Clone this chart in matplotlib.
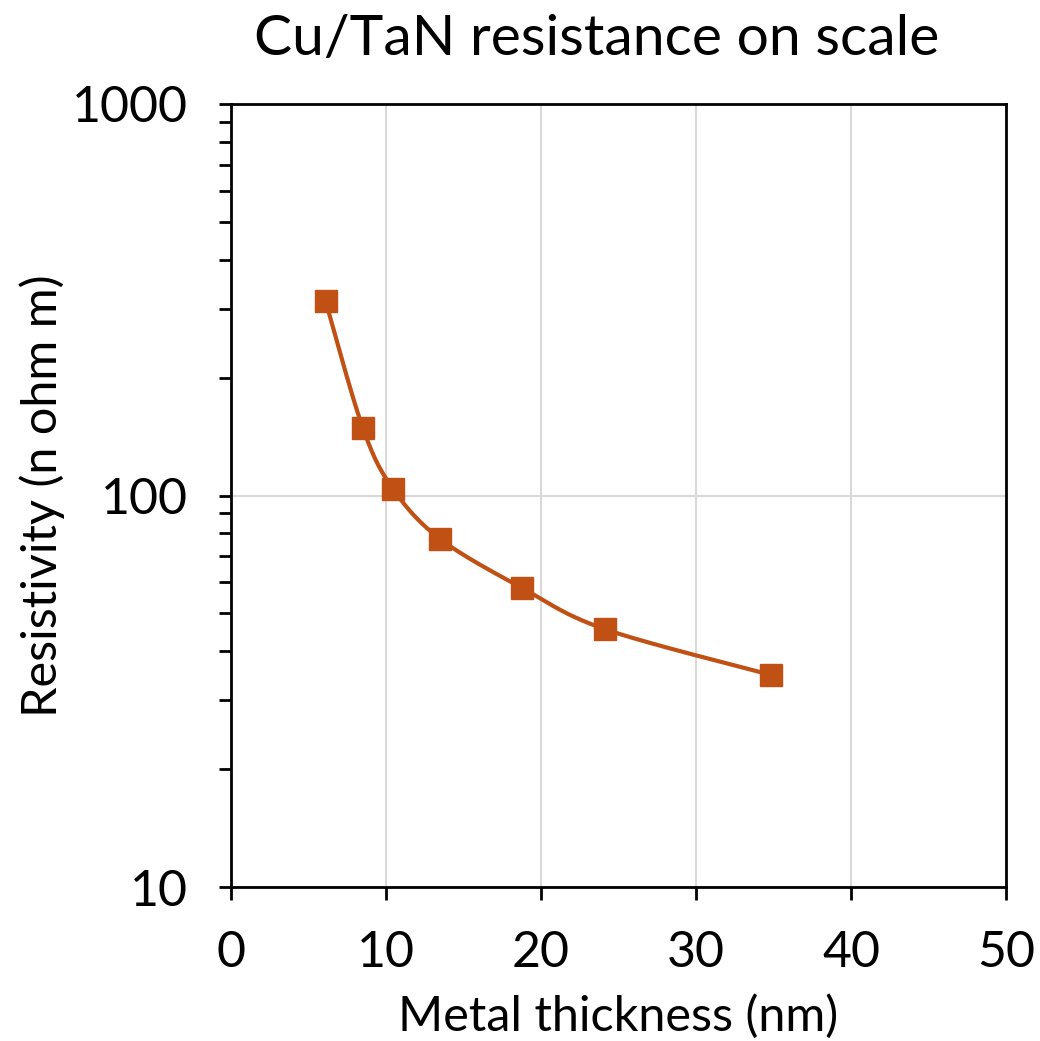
import numpy as np
import matplotlib
matplotlib.use("Agg")
import matplotlib.pyplot as plt
from matplotlib.ticker import LogLocator, FixedLocator, NullFormatter

plt.rcParams["font.family"] = ["Lato", "DejaVu Sans"]

thickness_nm = [6.1, 8.5, 10.45, 13.5, 18.8, 24.1, 34.85]
resistivity = [314, 149, 104, 77.4, 58.0, 45.6, 34.8]

title = "Cu/TaN resistance on scale"
xlabel = "Metal thickness (nm)"
ylabel = "Resistivity (n ohm m)"
color = "#C05014"


def smooth_curve(x, y, n=40):
    # Excel-like smoothed line: cardinal Bezier through points, in (x, log y)
    x = np.asarray(x, float)
    ly = np.log10(np.asarray(y, float))
    pts = np.column_stack([x, ly])
    out = []
    for i in range(len(pts) - 1):
        p0 = pts[i - 1] if i > 0 else pts[i]
        p1 = pts[i]
        p2 = pts[i + 1]
        p3 = pts[i + 2] if i + 2 < len(pts) else pts[i + 1]
        c1 = p1 + (p2 - p0) / 6
        c2 = p2 - (p3 - p1) / 6
        t = np.linspace(0, 1, n)[:, None]
        seg = ((1 - t) ** 3) * p1 + 3 * ((1 - t) ** 2) * t * c1 \
            + 3 * (1 - t) * t ** 2 * c2 + t ** 3 * p2
        out.append(seg)
    out = np.vstack(out)
    return out[:, 0], 10 ** out[:, 1]


fig = plt.figure(figsize=(10.4, 10.41), dpi=100)
ax = fig.add_axes([0.2221, 0.1479, 0.7452, 0.7522])

sx, sy = smooth_curve(thickness_nm, resistivity)
ax.plot(sx, sy, color=color, lw=3, zorder=3)
ax.plot(thickness_nm, resistivity, ls="none", marker="s", ms=15.5,
        color=color, zorder=4)

ax.set_yscale("log")
ax.set_xlim(0, 50)
ax.set_ylim(10, 1000)
ax.xaxis.set_major_locator(FixedLocator([0, 10, 20, 30, 40, 50]))
ax.yaxis.set_major_locator(FixedLocator([10, 100, 1000]))
ax.yaxis.set_major_formatter(matplotlib.ticker.FuncFormatter(lambda v, p: f"{v:g}"))
ax.yaxis.set_minor_locator(LogLocator(base=10, subs=np.arange(2, 10)))
ax.yaxis.set_minor_formatter(NullFormatter())

ax.grid(True, which="major", color="#D9D9D9", lw=1.5, zorder=0)
for s in ax.spines.values():
    s.set_linewidth(2)
    s.set_color("black")
ax.tick_params(axis="both", which="major", direction="out", length=9,
               width=2, labelsize=36)
ax.tick_params(axis="x", which="major", pad=22)
ax.tick_params(axis="y", which="major", pad=22)
ax.tick_params(axis="y", which="minor", direction="out", length=9, width=2)

ax.set_title(title, fontsize=41, pad=35, x=0.472)
ax.set_xlabel(xlabel, fontsize=35, labelpad=13)
ax.set_ylabel(ylabel, fontsize=35, labelpad=5)

fig.savefig("out.png", dpi=100)
